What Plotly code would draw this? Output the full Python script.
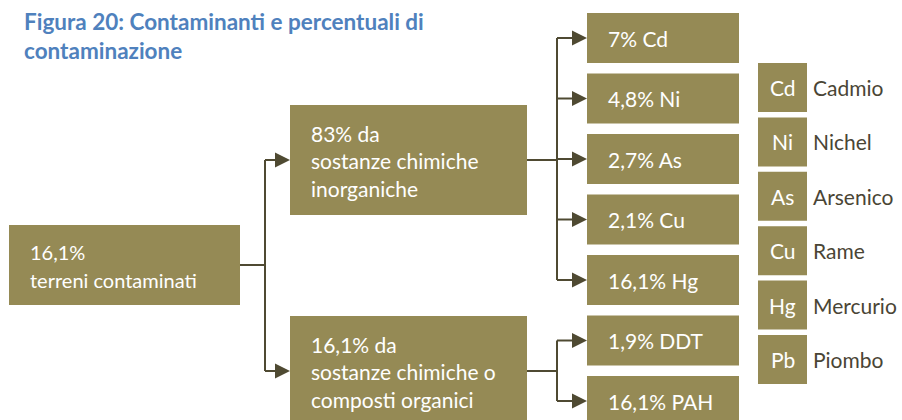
import plotly.graph_objects as go

# testi del diagramma
title_lines = ["Figura 20: Contaminanti e percentuali di", "contaminazione"]
root_label = ["16,1%", "terreni contaminati"]
group_labels = [
    ["83% da", "sostanze chimiche", "inorganiche"],
    ["16,1% da", "sostanze chimiche o", "composti organici"],
]
leaf_labels = ["7% Cd", "4,8% Ni", "2,7% As", "2,1% Cu", "16,1% Hg", "1,9% DDT", "16,1% PAH"]
leaf_group = [0, 0, 0, 0, 0, 1, 1]
legend_symbols = ["Cd", "Ni", "As", "Cu", "Hg", "Pb"]
legend_names = ["Cadmio", "Nichel", "Arsenico", "Rame", "Mercurio", "Piombo"]

BOX = "#958A55"
LINE = "#4F4A32"
FONT = "Lato"
FS = 21

W, H = 902, 420
fig = go.Figure()
shapes = []
ann = []


def rect(x0, y0, x1, y1):
    shapes.append(dict(type="rect", x0=x0, y0=y0, x1=x1, y1=y1, xref="x", yref="y",
                       fillcolor=BOX, line=dict(width=0), layer="below"))


def seg(x0, y0, x1, y1):
    shapes.append(dict(type="line", x0=x0, y0=y0, x1=x1, y1=y1, xref="x", yref="y",
                       line=dict(color=LINE, width=2)))


def arrow(xv, y, xtip):
    # linea orizzontale + punta triangolare
    seg(xv, y, xtip - 14, y)
    shapes.append(dict(type="path", xref="x", yref="y",
                       path=f"M {xtip-15},{y-7.5} L {xtip},{y} L {xtip-15},{y+7.5} Z",
                       fillcolor=LINE, line=dict(width=0)))


def text(x, y, s, color="white", size=FS, anchor="left", bold=False):
    if bold:
        s = "<b>" + s + "</b>"
    ann.append(dict(x=x, y=y, xref="x", yref="y", text=s, showarrow=False,
                    xanchor=anchor, yanchor="middle",
                    font=dict(family=FONT, size=size, color=color)))


# titolo
for i, t in enumerate(title_lines):
    text(22, 21 + i * 29, t, color="#4F81BD", size=22.5, bold=True)

# radice
rect(9, 225, 240, 305)
root_cy = 265
for i, t in enumerate(root_label):
    text(28, 252 + i * 27.5, t, size=20)

# gruppi
group_tops = [105, 316]
group_cy = []
for g, lines in enumerate(group_labels):
    top = group_tops[g]
    rect(290, top, 527, top + 110)
    cy = top + 55
    group_cy.append(cy)
    for i, t in enumerate(lines):
        text(309, top + 28 + i * 27.5, t)

# connettori radice -> gruppi
seg(240, root_cy, 265, root_cy)
seg(265, group_cy[0], 265, group_cy[1])
for cy in group_cy:
    arrow(265, cy, 290)

# foglie
leaf_cy = []
for i, t in enumerate(leaf_labels):
    top = 13 + i * 60.5
    rect(587, top, 739, top + 50)
    cy = top + 25
    leaf_cy.append(cy)
    text(606, cy, t)

for g in range(len(group_labels)):
    ys = [leaf_cy[i] for i in range(len(leaf_labels)) if leaf_group[i] == g]
    seg(527, group_cy[g], 557, group_cy[g])
    seg(557, min(ys), 557, max(ys))
    for y in ys:
        arrow(557, y, 587)

# legenda
for i, (s, n) in enumerate(zip(legend_symbols, legend_names)):
    top = 63 + i * 54.4
    rect(758, top, 807, top + 49)
    text(782.5, top + 24.5, s, anchor="center")
    text(811, top + 24.5, n, color="#4A4535")

fig.update_layout(
    width=W, height=H,
    margin=dict(l=0, r=0, t=0, b=0),
    paper_bgcolor="white", plot_bgcolor="white",
    xaxis=dict(range=[0, W], visible=False, fixedrange=True),
    yaxis=dict(range=[H, 0], visible=False, fixedrange=True),
    shapes=shapes, annotations=ann, showlegend=False,
)

# niente margine del body, cosi' la figura parte da 0,0
fig.write_html("out.html", config={"displayModeBar": False},
               post_script="document.body.style.margin='0';")
